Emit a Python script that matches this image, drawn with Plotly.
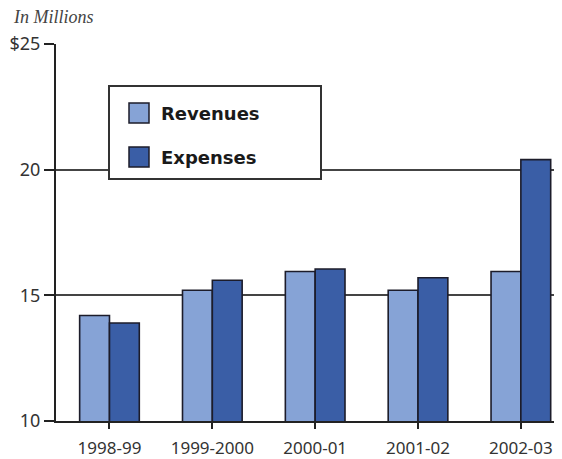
import plotly.graph_objects as go

categories = ["1998-99", "1999-2000", "2000-01", "2001-02", "2002-03"]
revenues = [14.2, 15.2, 15.95, 15.2, 15.95]
expenses = [13.9, 15.6, 16.05, 15.7, 20.4]
y_ticks = [10, 15, 20, 25]
y_tick_labels = ["10", "15", "20", "$25"]

REV_COLOR = "#86a3d6"
EXP_COLOR = "#3a5ea6"
OUTLINE = "#1c1c2a"
FONT = "Noto Sans"

fig = go.Figure()
fig.add_trace(go.Bar(name="Revenues", x=categories, y=revenues,
                     marker=dict(color=REV_COLOR, line=dict(color=OUTLINE, width=1.6)),
                     showlegend=False))
fig.add_trace(go.Bar(name="Expenses", x=categories, y=expenses,
                     marker=dict(color=EXP_COLOR, line=dict(color=OUTLINE, width=1.6)),
                     showlegend=False))

# page body has an 8px margin; figure is sized/positioned to compensate
OFF = 8
W, H = 562 - OFF, 459 - OFF
L, R, T, B = 56 - OFF, 0, 44 - OFF, 459 - 421
fig.update_layout(
    width=W, height=H,
    margin=dict(l=L, r=R, t=T, b=B, pad=0),
    barmode="group", bargap=0.42, bargroupgap=0,
    plot_bgcolor="white", paper_bgcolor="white",
    font=dict(family=FONT, color="#333333", size=17),
    xaxis=dict(type="category", range=[-0.52, 4.4], showline=True, linecolor="#222222", linewidth=2,
               ticks="outside", ticklen=6, tickwidth=1.5, tickcolor="#222222",
               ticklabelstandoff=5,
               showgrid=False, tickfont=dict(size=17, family=FONT, color="#333333")),
    yaxis=dict(range=[10, 25], tickvals=y_ticks, ticktext=y_tick_labels,
               showline=True, linecolor="#222222", linewidth=2,
               ticks="outside", ticklen=10, tickwidth=1.5, tickcolor="#222222",
               showgrid=True, gridcolor="#444444", gridwidth=2, zeroline=False,
               tickfont=dict(size=18, family=FONT, color="#333333")),
)

pw, ph = W - L - R, H - T - B
def px(x):
    return (x - OFF - L) / pw
def py(y):
    return 1 - (y - OFF - T) / ph

# In Millions label
fig.add_annotation(text="<i>In Millions</i>", xref="paper", yref="paper",
                   x=px(11), y=py(17), xanchor="left", yanchor="middle", showarrow=False,
                   font=dict(family="Liberation Serif", size=18, color="#444444"))

# Manual legend box
fig.add_shape(type="rect", xref="paper", yref="paper",
              x0=px(109), x1=px(321), y0=py(179), y1=py(86),
              fillcolor="white", line=dict(color="#333333", width=2), layer="above")
for name, color, yc in [("Revenues", REV_COLOR, 113), ("Expenses", EXP_COLOR, 157)]:
    fig.add_shape(type="rect", xref="paper", yref="paper",
                  x0=px(129), x1=px(149), y0=py(yc + 10), y1=py(yc - 10),
                  fillcolor=color, line=dict(color=OUTLINE, width=1.5), layer="above")
    fig.add_annotation(text="<b>" + name + "</b>", xref="paper", yref="paper",
                       x=px(159), y=py(yc), xanchor="left", yanchor="middle",
                       showarrow=False, font=dict(family="DejaVu Sans", size=18, color="#1a1a1a"))

fig.write_html("out.html")
